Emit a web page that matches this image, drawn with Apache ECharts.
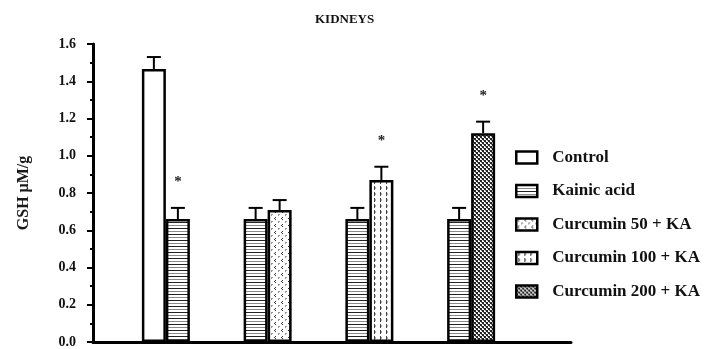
<!DOCTYPE html>
<html>
<head>
<meta charset="utf-8">
<script src="https://cdn.jsdelivr.net/npm/echarts@6/dist/echarts.min.js"></script>
<style>
  html, body { margin: 0; padding: 0; background: #fff; }
  #chart { width: 715px; height: 349px; }
</style>
</head>
<body>
<div id="chart"></div>
<script>
// Treatment groups along the x axis (each pairs Kainic acid with one other arm)
const groups = ['Control vs KA', 'Curcumin 50', 'Curcumin 100', 'Curcumin 200'];
const seriesNames = ['Control', 'Kainic acid', 'Curcumin 50 + KA', 'Curcumin 100 + KA', 'Curcumin 200 + KA'];

// Mean GSH (µM/g) and standard error per arm
const controlMean = [1.466];
const controlErr = [0.064];
const kainicMean = [0.66, 0.66, 0.66, 0.66];
const kainicErr = [0.06, 0.06, 0.06, 0.06];
const cur50Mean = [0.709];
const cur50Err = [0.053];
const cur100Mean = [0.87];
const cur100Err = [0.071];
const cur200Mean = [1.121];
const cur200Err = [0.062];

// Significance marks (*) per group: [Kainic in group 1, curcumin 50, 100, 200]
const sigFlags = [1, 0, 1, 1];

const yTicks = { min: 0, max: 1.6, interval: 0.2 };

const FONT = '"Liberation Serif", "Times New Roman", serif';

// Monochrome fill patterns drawn on small canvases
function pattern(w, h, draw) {
  const c = document.createElement('canvas');
  c.width = w; c.height = h;
  const ctx = c.getContext('2d');
  ctx.fillStyle = '#fff';
  ctx.fillRect(0, 0, w, h);
  draw(ctx);
  return { image: c, repeat: 'repeat' };
}
function px(ctx, color, pts) {
  ctx.fillStyle = color;
  pts.forEach(p => ctx.fillRect(p[0], p[1], 1, 1));
}
const fillStripes = pattern(4, 6, ctx => {
  ctx.fillStyle = '#222'; ctx.fillRect(0, 0, 4, 1);
  ctx.fillStyle = '#8a8a8a'; ctx.fillRect(0, 3, 4, 1);
});
const fillSparse = pattern(7, 7, ctx => {
  px(ctx, '#333', [[2, 0], [1, 1], [2, 2]]);
  px(ctx, '#999', [[5, 4], [5, 5], [6, 4]]);
});
const fillDashed = pattern(6, 6, ctx => {
  ctx.fillStyle = '#444'; ctx.fillRect(2, 0, 1, 4);
  ctx.fillStyle = '#aaa'; ctx.fillRect(3, 1, 1, 2);
});
const fillDense = pattern(4, 4, ctx => {
  ctx.fillStyle = '#222';
  ctx.fillRect(0, 0, 2, 2);
  ctx.fillRect(2, 2, 2, 2);
  ctx.fillStyle = '#777';
  ctx.fillRect(1, 2, 1, 1);
  ctx.fillRect(3, 0, 1, 1);
});

const barStyle = (color) => ({ color: color, borderColor: '#000', borderWidth: 2.5 });
const BAR_W = 24;
const blank = '-';

// Place values into per-group slots; two stacks form the left and right bar of each pair
function place(values, indices) {
  const out = groups.map(() => blank);
  indices.forEach((g, i) => { out[g] = values[i]; });
  return out;
}

// Error-bar records: [group, slot (0 left / 1 right), mean, se, significant]
const errData = [
  [0, 0, controlMean[0], controlErr[0], 0],
  [0, 1, kainicMean[0], kainicErr[0], sigFlags[0]],
  [1, 0, kainicMean[1], kainicErr[1], 0],
  [1, 1, cur50Mean[0], cur50Err[0], sigFlags[1]],
  [2, 0, kainicMean[2], kainicErr[2], 0],
  [2, 1, cur100Mean[0], cur100Err[0], sigFlags[2]],
  [3, 0, kainicMean[3], kainicErr[3], 0],
  [3, 1, cur200Mean[0], cur200Err[0], sigFlags[3]]
];

const chart = echarts.init(document.getElementById('chart'), null, { renderer: 'canvas' });

const option = {
  animation: false,
  title: {
    text: 'KIDNEYS',
    left: 310, top: 8,
    textStyle: { fontFamily: FONT, fontWeight: 'bold', fontSize: 13, color: '#111' }
  },
  legend: {
    data: seriesNames,
    orient: 'vertical',
    left: 515, top: 149,
    padding: 0,
    itemWidth: 21, itemHeight: 12,
    itemGap: 16.5,
    icon: 'rect',
    itemStyle: { borderColor: '#000', borderWidth: 2.5 },
    textStyle: {
      fontFamily: FONT, fontWeight: 'bold', fontSize: 17, color: '#111',
      lineHeight: 17, padding: [0, 0, 0, 10]
    },
    selectedMode: false
  },
  grid: [
    { left: 93, width: 478, top: 44, bottom: 7 },
    { left: 115, width: 407, top: 44, bottom: 7 }
  ],
  xAxis: [
    {
      type: 'category', gridIndex: 0, data: [''],
      axisLine: { lineStyle: { color: '#000', width: 3 } },
      axisTick: { show: false }, axisLabel: { show: false }
    },
    {
      type: 'category', gridIndex: 1, data: groups,
      axisLine: { show: false }, axisTick: { show: false }, axisLabel: { show: false }
    }
  ],
  yAxis: [
    {
      type: 'value', gridIndex: 0,
      min: yTicks.min, max: yTicks.max, interval: yTicks.interval,
      name: 'GSH μM/g', nameLocation: 'middle', nameGap: 61, nameRotate: 90,
      nameTextStyle: { fontFamily: FONT, fontWeight: 'bold', fontSize: 16, color: '#1a1a1a' },
      axisLine: { show: true, lineStyle: { color: '#000', width: 3 } },
      axisTick: { show: true, length: 6, lineStyle: { color: '#000', width: 2 } },
      minorTick: { show: true, splitNumber: 2, length: 3, lineStyle: { color: '#000', width: 2 } },
      axisLabel: {
        fontFamily: FONT, fontWeight: 'bold', fontSize: 14, color: '#111', margin: 17,
        formatter: v => v.toFixed(1)
      },
      splitLine: { show: false }
    },
    {
      type: 'value', gridIndex: 1,
      min: yTicks.min, max: yTicks.max, interval: yTicks.interval,
      show: false
    }
  ],
  series: [
    {
      name: 'Control', type: 'bar', xAxisIndex: 1, yAxisIndex: 1, stack: 'left',
      barWidth: BAR_W, barGap: '0%',
      itemStyle: barStyle('#fff'),
      data: place(controlMean, [0])
    },
    {
      name: 'Kainic acid', type: 'bar', xAxisIndex: 1, yAxisIndex: 1, stack: 'right',
      barWidth: BAR_W, barGap: '0%',
      itemStyle: barStyle(fillStripes),
      data: place([kainicMean[0]], [0])
    },
    {
      name: 'Kainic acid', type: 'bar', xAxisIndex: 1, yAxisIndex: 1, stack: 'left',
      barWidth: BAR_W, barGap: '0%',
      itemStyle: barStyle(fillStripes),
      data: place(kainicMean.slice(1), [1, 2, 3])
    },
    {
      name: 'Curcumin 50 + KA', type: 'bar', xAxisIndex: 1, yAxisIndex: 1, stack: 'right',
      barWidth: BAR_W, barGap: '0%',
      itemStyle: barStyle(fillSparse),
      data: place(cur50Mean, [1])
    },
    {
      name: 'Curcumin 100 + KA', type: 'bar', xAxisIndex: 1, yAxisIndex: 1, stack: 'right',
      barWidth: BAR_W, barGap: '0%',
      itemStyle: barStyle(fillDashed),
      data: place(cur100Mean, [2])
    },
    {
      name: 'Curcumin 200 + KA', type: 'bar', xAxisIndex: 1, yAxisIndex: 1, stack: 'right',
      barWidth: BAR_W, barGap: '0%',
      itemStyle: barStyle(fillDense),
      data: place(cur200Mean, [3])
    },
    {
      // Upper error bars with caps, plus significance asterisks
      name: 'SE', type: 'custom', xAxisIndex: 1, yAxisIndex: 1,
      data: errData,
      z: 3,
      renderItem: function (params, api) {
        const g = api.value(0), slot = api.value(1);
        const mean = api.value(2), se = api.value(3), sig = api.value(4);
        const base = api.coord([g, mean]);
        const top = api.coord([g, mean + se]);
        const x = base[0] + (slot === 0 ? -BAR_W / 2 : BAR_W / 2);
        const cap = 7;
        const children = [
          { type: 'line', shape: { x1: x, y1: base[1], x2: x, y2: top[1] },
            style: { stroke: '#000', lineWidth: 2 } },
          { type: 'line', shape: { x1: x - cap, y1: top[1], x2: x + cap, y2: top[1] },
            style: { stroke: '#000', lineWidth: 2 } }
        ];
        if (sig) {
          children.push({
            type: 'text',
            style: {
              x: x, y: top[1] - 26, text: '*',
              fontFamily: FONT, fontWeight: 'bold', fontSize: 15, fill: '#222',
              textAlign: 'center', textVerticalAlign: 'middle'
            }
          });
        }
        return { type: 'group', children: children };
      }
    }
  ]
};

chart.setOption(option);
</script>
</body>
</html>
